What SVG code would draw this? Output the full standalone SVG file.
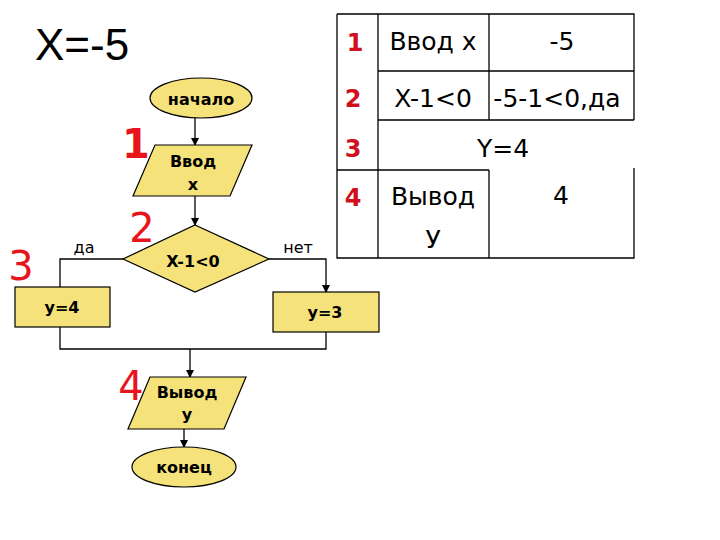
<svg xmlns="http://www.w3.org/2000/svg" width="720" height="540" viewBox="0 0 720 540">
<style>
.sh{fill:#F5E27A;stroke:#000;stroke-width:1.2}
.ft{font-family:"DejaVu Sans",sans-serif;font-weight:bold;font-size:16px;fill:#000;text-anchor:middle}
.lb{font-family:"DejaVu Sans",sans-serif;font-size:16px;fill:#000;text-anchor:middle}
.rn{font-family:"DejaVu Sans",sans-serif;font-size:40px;fill:#E8141C;text-anchor:middle}
.tn{font-family:"DejaVu Sans",sans-serif;font-size:24px;font-weight:bold;fill:#D0101C;text-anchor:middle}
.tt{font-family:"DejaVu Sans",sans-serif;font-size:25px;fill:#000;text-anchor:middle}
.ln{fill:none;stroke:#000;stroke-width:1.3}
.tb{fill:none;stroke:#000;stroke-width:1.3}
</style>
<defs>
<marker id="ah" markerWidth="8" markerHeight="8" refX="7" refY="4" orient="auto" markerUnits="userSpaceOnUse">
<path d="M0,0 L8,4 L0,8 Z" fill="#000"/>
</marker>
</defs>
<rect width="720" height="540" fill="#fff"/>
<text x="35" y="60" font-family="Liberation Sans, sans-serif" font-size="44" fill="#000">X=-5</text>

<g id="table">
<path class="tb" d="M337,14 H634 V120 M337,14 V258 H634 V168 M378,14 V258 M489,14 V120 M489,170 V258 M378,71 H634 M378,120 H634 M337,170 H489"/>
<text class="tn" x="355" y="51">1</text>
<text class="tn" x="353" y="107">2</text>
<text class="tn" x="353" y="157">3</text>
<text class="tn" x="353" y="206">4</text>
<text class="tt" x="433" y="50">Ввод х</text>
<text class="tt" x="562" y="50">-5</text>
<text class="tt" x="433" y="107">X-1&lt;0</text>
<text class="tt" x="557" y="107" font-size="23">-5-1&lt;0,да</text>
<text class="tt" x="503" y="157">Y=4</text>
<text class="tt" x="433" y="205">Вывод</text>
<text class="tt" x="433" y="248">У</text>
<text class="tt" x="561" y="204">4</text>
</g>

<g id="connectors">
<line class="ln" x1="195" y1="118" x2="195" y2="145" marker-end="url(#ah)"/>
<line class="ln" x1="195" y1="196" x2="195" y2="225" marker-end="url(#ah)"/>
<polyline class="ln" points="123,259 60,259 60,287"/>
<polyline class="ln" points="269,259 326,259 326,292" marker-end="url(#ah)"/>
<polyline class="ln" points="60,327 60,349 326,349 326,332"/>
<line class="ln" x1="190" y1="349" x2="190" y2="377" marker-end="url(#ah)"/>
<line class="ln" x1="184" y1="429" x2="184" y2="447" marker-end="url(#ah)"/>
<text class="lb" x="84" y="253">да</text>
<text class="lb" x="298" y="253">нет</text>
</g>

<g id="start">
<ellipse class="sh" cx="201" cy="98" rx="51" ry="20"/>
<text class="ft" x="201" y="105">начало</text>
</g>
<g id="input">
<polygon class="sh" points="155,145 252,145 230,196 133,196"/>
<text class="ft" x="193" y="167">Ввод</text>
<text class="ft" x="193" y="190">х</text>
<text class="rn" x="136" y="158" font-weight="bold" font-size="36">1</text>
</g>
<g id="decision">
<polygon class="sh" points="195,225 269,259 195,292 123,259"/>
<text class="ft" x="193" y="267" font-size="17">X-1&lt;0</text>
<text class="rn" x="142" y="242">2</text>
</g>
<g id="y4">
<rect class="sh" x="15" y="287" width="95" height="40"/>
<text class="ft" x="62" y="313">y=4</text>
<text class="rn" x="21" y="280">3</text>
</g>
<g id="y3">
<rect class="sh" x="273" y="292" width="106" height="40"/>
<text class="ft" x="325" y="318">y=3</text>
</g>
<g id="output">
<polygon class="sh" points="150,377 246,377 224,429 128,429"/>
<text class="ft" x="187" y="398">Вывод</text>
<text class="ft" x="187" y="420">у</text>
<text class="rn" x="131" y="400">4</text>
</g>
<g id="end">
<ellipse class="sh" cx="184" cy="467" rx="52" ry="20"/>
<text class="ft" x="184" y="473">конец</text>
</g>
</svg>
